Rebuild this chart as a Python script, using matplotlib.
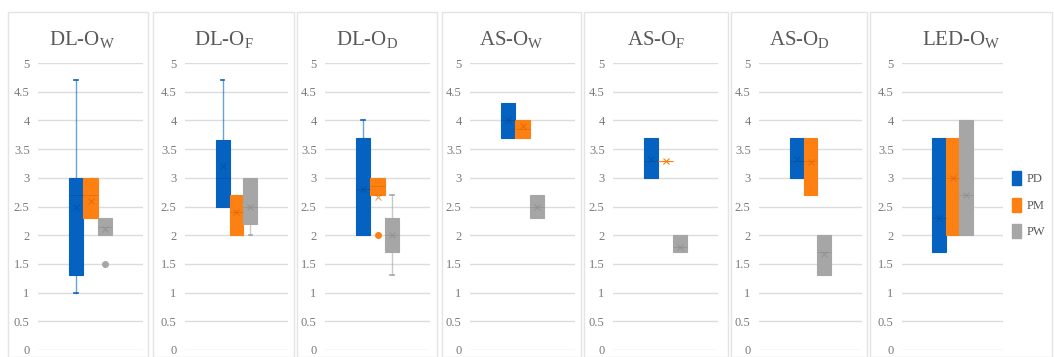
import matplotlib
matplotlib.use("Agg")
import matplotlib.pyplot as plt
from matplotlib.patches import Rectangle, Patch

plt.rcParams['font.family'] = ['Liberation Serif', 'DejaVu Serif']
plt.rcParams['mathtext.fontset'] = 'custom'
plt.rcParams['mathtext.rm'] = 'Liberation Serif'

# panel titles and series
titles = [r'DL-O$_\mathrm{W}$', r'DL-O$_\mathrm{F}$', r'DL-O$_\mathrm{D}$',
          r'AS-O$_\mathrm{W}$', r'AS-O$_\mathrm{F}$', r'AS-O$_\mathrm{D}$',
          r'LED-O$_\mathrm{W}$']
series = ['PD', 'PM', 'PW']
colors = ['#0562c0', '#fd8012', '#a6a6a6']
dark = ['#034c96', '#d96406', '#8a8a8a']
yticks = [0, 0.5, 1, 1.5, 2, 2.5, 3, 3.5, 4, 4.5, 5]
ytick_labels = ['0', '0.5', '1', '1.5', '2', '2.5', '3', '3.5', '4', '4.5', '5']

# box stats per panel, per series: (whislo, q1, med, q3, whishi, mean, fliers)
dl_ow = [(1.0, 1.3, 2.7, 3.0, 4.7, 2.5, []),
         (2.3, 2.3, 2.7, 3.0, 3.0, 2.6, []),
         (2.0, 2.0, 2.15, 2.3, 2.3, 2.1, [1.5])]
dl_of = [(2.5, 2.5, 3.0, 3.65, 4.7, 3.2, []),
         (2.0, 2.0, 2.4, 2.7, 2.7, 2.4, []),
         (2.0, 2.2, 2.5, 3.0, 3.0, 2.5, [])]
dl_od = [(2.0, 2.0, 2.8, 3.7, 4.0, 2.8, []),
         (2.7, 2.7, 2.85, 3.0, 3.0, 2.67, [2.0]),
         (1.3, 1.7, 2.0, 2.3, 2.7, 2.0, [])]
as_ow = [(3.7, 3.7, 4.0, 4.3, 4.3, 4.0, []),
         (3.7, 3.7, 3.85, 4.0, 4.0, 3.9, []),
         (2.3, 2.3, 2.5, 2.7, 2.7, 2.5, [])]
as_of = [(3.0, 3.0, 3.3, 3.7, 3.7, 3.33, []),
         (3.3, 3.3, 3.3, 3.3, 3.3, 3.3, []),
         (1.7, 1.7, 1.8, 2.0, 2.0, 1.8, [])]
as_od = [(3.0, 3.0, 3.3, 3.7, 3.7, 3.33, []),
         (2.7, 2.7, 3.3, 3.7, 3.7, 3.27, []),
         (1.3, 1.3, 1.7, 2.0, 2.0, 1.67, [])]
led_ow = [(1.7, 1.7, 2.3, 3.7, 3.7, 2.3, []),
          (2.0, 2.0, 3.0, 3.7, 3.7, 3.0, []),
          (2.0, 2.0, 2.7, 4.0, 4.0, 2.7, [])]
panels = [dl_ow, dl_of, dl_od, as_ow, as_of, as_od, led_ow]

W, H = 1054, 357
fig = plt.figure(figsize=(W / 100, H / 100), dpi=100)

# plot area and panel frame in pixels
plot_x = [(38, 143), (185, 288), (325, 430), (470, 575), (613, 718), (759, 862), (902, 1003)]
frame_x = [(8, 148), (153, 294), (297, 437), (442, 581), (584, 728), (731, 867), (870, 1052)]
y0, y1 = 350, 63

bw = 0.135
for k, stats in enumerate(panels):
    fx0, fx1 = frame_x[k]
    fig.add_artist(Rectangle((fx0 / W, 0), (fx1 - fx0) / W, (H - 12) / H,
                             transform=fig.transFigure, fill=False,
                             edgecolor='#e4e4e4', linewidth=1, zorder=0))
    px0, px1 = plot_x[k]
    ax = fig.add_axes([px0 / W, (H - y0) / H, (px1 - px0) / W, (y0 - y1) / H])

    for i, st in enumerate(stats):
        lo, q1, med, q3, hi, mean, fl = st
        d = dict(whislo=lo, q1=q1, med=med, q3=q3, whishi=hi, mean=mean, fliers=fl)
        pos = 0.5 + (i - 1) * bw
        flat = q3 <= q1
        res = ax.bxp([d], positions=[pos], widths=bw, patch_artist=True, showmeans=True,
                     capwidths=0.035, showcaps=True, manage_ticks=False,
                     boxprops=dict(facecolor=colors[i], edgecolor=colors[i], linewidth=0.8),
                     medianprops=dict(color=colors[i] if flat else dark[i], linewidth=0.6,
                                      alpha=1 if flat else 0.6),
                     whiskerprops=dict(color=colors[i], linewidth=1, alpha=0.6),
                     capprops=dict(color=colors[i], linewidth=1.2),
                     meanprops=dict(marker='x', markeredgecolor=colors[i] if flat else dark[i],
                                    markersize=5, markeredgewidth=0.8, alpha=1 if flat else 0.6),
                     flierprops=dict(marker='o', markerfacecolor=colors[i],
                                     markeredgecolor=colors[i], markersize=4))
        # no cap where the whisker ends on the box
        res['caps'][0].set_visible(lo < q1)
        res['caps'][1].set_visible(hi > q3)

    ax.set_xlim(0, 1)
    ax.set_ylim(0, 5)
    ax.set_yticks(yticks)
    ax.set_yticklabels(ytick_labels)
    ax.tick_params(axis='y', length=0, pad=6, labelsize=9, labelcolor='#7a7a7a')
    ax.set_xticks([])
    for s in ax.spines.values():
        s.set_visible(False)
    ax.grid(axis='y', color='#dcdcdc', linewidth=1)
    ax.set_axisbelow(True)
    ax.patch.set_alpha(0)

    fig.text((fx0 + fx1) / 2 / W + (0.004 if k == 0 else 0), 1 - 40 / H, titles[k],
             ha='center', va='center', fontsize=15, color='#595959')

    if k == 6:
        handles = [Patch(facecolor=c, edgecolor=c) for c in colors]
        fig.legend(handles, series, loc='center left', bbox_to_anchor=(1012 / W, 1 - 205 / H),
                   frameon=False, fontsize=9, labelcolor='#595959', borderaxespad=0,
                   borderpad=0, handlelength=0.7, handleheight=1.3, handletextpad=0.5,
                   labelspacing=1.0)

fig.savefig('out.png', dpi=100)
